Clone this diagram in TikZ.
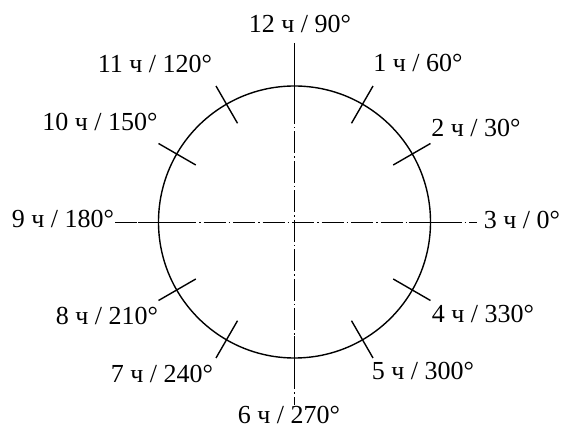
\documentclass[tikz,border=0pt]{standalone}
\usepackage{fontspec}
\setmainfont{Liberation Serif}
\usetikzlibrary{calc}
\begin{document}
\begin{tikzpicture}[x=1pt,y=1pt,
  lbl/.style={anchor=base,inner sep=0pt,font=\fontsize{26}{31}\selectfont},
  axisline/.style={line width=0.9pt,dash pattern=on 22pt off 3pt on 1.5pt off 3pt},
  rim/.style={line width=1.4pt},
  tick/.style={line width=1.4pt},
  thintick/.style={line width=0.9pt}]
\useasboundingbox (0,0) rectangle (561,430);
\coordinate (O) at (294.5,208);
\coordinate (L) at (115,208);
\coordinate (R) at (477,208);
\coordinate (T) at (294.5,387);
\coordinate (B) at (294.5,25);
\draw[axisline] (L) -- (R);
\draw[axisline] (T) -- (B);
\draw[rim] (O) circle[radius=136pt];
\foreach \a in {30,60,120,150,210,240,300,330}{
  \draw[tick] ($(O)+(\a:114pt)$) -- ($(O)+(\a:157pt)$);
}
\foreach \a in {0,90,180}{
  \draw[thintick] ($(O)+(\a:114pt)$) -- ($(O)+(\a:157pt)$);
}
\draw[tick] ($(O)+(270:114pt)$) -- ($(O)+(270:157pt)$);
\node[lbl] (h12) at (300,397) {12 ч / 90°};
\node[lbl] (h1) at (418,358) {1 ч / 60°};
\node[lbl] (h2) at (476,293) {2 ч / 30°};
\node[lbl] (h3) at (522,201) {3 ч / 0°};
\node[lbl] (h4) at (483,107) {4 ч / 330°};
\node[lbl] (h5) at (423,50) {5 ч / 300°};
\node[lbl] (h6) at (289,6) {6 ч / 270°};
\node[lbl] (h7) at (162,47) {7 ч / 240°};
\node[lbl] (h8) at (107,105) {8 ч / 210°};
\node[lbl] (h9) at (63,202) {9 ч / 180°};
\node[lbl] (h10) at (100,299) {10 ч / 150°};
\node[lbl] (h11) at (155,357) {11 ч / 120°};
\end{tikzpicture}
\end{document}
